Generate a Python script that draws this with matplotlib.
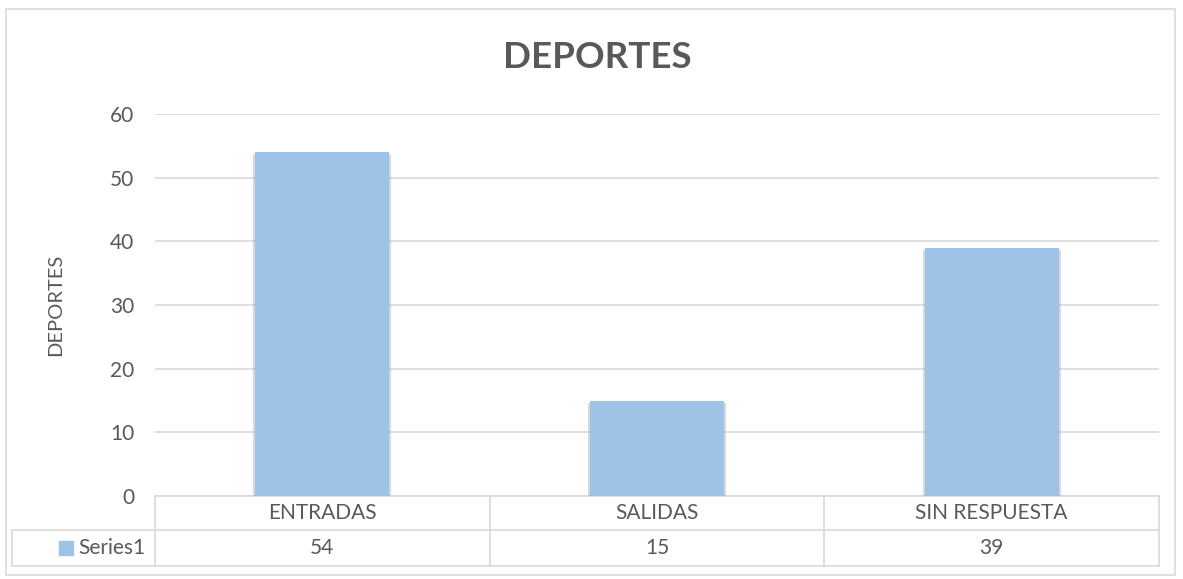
import matplotlib.pyplot as plt
import matplotlib.patheffects as pe
from matplotlib.patches import Rectangle

# data
categories = ['ENTRADAS', 'SALIDAS', 'SIN RESPUESTA']
values = [54, 15, 39]
series_name = 'Series1'
title = 'DEPORTES'
yticks = [0, 10, 20, 30, 40, 50, 60]

bar_color = '#9dc3e6'
grid_color = '#d9d9d9'
text_color = '#595959'

plt.rcParams['font.family'] = ['Lato', 'DejaVu Sans']

fig = plt.figure(figsize=(11.83, 5.79), dpi=100)
W, H = 1183, 579

# outer chart border
fig.add_artist(Rectangle((6 / W, 1 - 575 / H), 1169 / W, 566 / H, transform=fig.transFigure,
                         fill=False, edgecolor=grid_color, linewidth=1.2))

ax = fig.add_axes([155 / W, 1 - 496 / H, 1004 / W, 382 / H])
x = list(range(len(categories)))
bars = ax.bar(x, values, width=0.4, color=bar_color, zorder=3)
for b in bars:
    b.set_path_effects([pe.SimplePatchShadow(offset=(-1.5, -1.5), shadow_rgbFace='#7f7f7f', alpha=0.3),
                        pe.SimplePatchShadow(offset=(1.5, -1.5), shadow_rgbFace='#7f7f7f', alpha=0.3),
                        pe.Normal()])

ax.set_xlim(-0.5, len(categories) - 0.5)
ax.set_ylim(0, 60)
ax.set_yticks(yticks)
ax.set_yticklabels([str(t) for t in yticks], fontsize=15, color=text_color)
ax.tick_params(axis='y', length=0, pad=15)
ax.set_xticks([])
ax.yaxis.grid(True, color=grid_color, linewidth=1.2, zorder=0)
for s in ax.spines.values():
    s.set_visible(False)
ax.set_ylabel(title, fontsize=14.5, color=text_color)
ax.yaxis.set_label_coords((64 - 155) / 1004, 0.5)

fig.text(597 / W, 1 - 57 / H, title, ha='center', va='center', fontsize=26.5,
         fontweight='bold', color=text_color)

# data table below the axes
tr = ax.transAxes
h1 = -34 / 382
h2 = -70 / 382
xl = (12 - 155) / 1004
lk = dict(transform=tr, color=grid_color, linewidth=1.2, clip_on=False)
ax.plot([0, 1], [0, 0], **lk)
ax.plot([xl, 1], [h1, h1], **lk)
ax.plot([xl, 1], [h2, h2], **lk)
ax.plot([xl, xl], [h1, h2], **lk)
n = len(categories)
for i in range(n + 1):
    ax.plot([i / n, i / n], [0, h2], **lk)
for i, (c, v) in enumerate(zip(categories, values)):
    ax.text((i + 0.5) / n, h1 / 2, c, transform=tr, ha='center', va='center',
            fontsize=15, color=text_color)
    ax.text((i + 0.5) / n, (h1 + h2) / 2, str(v), transform=tr, ha='center', va='center',
            fontsize=15, color=text_color)
ax.add_patch(Rectangle(((59 - 155) / 1004, (h1 + h2) / 2 - 7 / 382), 14 / 1004, 14 / 382,
                       transform=tr, color=bar_color, clip_on=False))
ax.text((78 - 155) / 1004, (h1 + h2) / 2, series_name, transform=tr, ha='left', va='center',
        fontsize=15, color=text_color)

fig.savefig('out.png', dpi=100)
